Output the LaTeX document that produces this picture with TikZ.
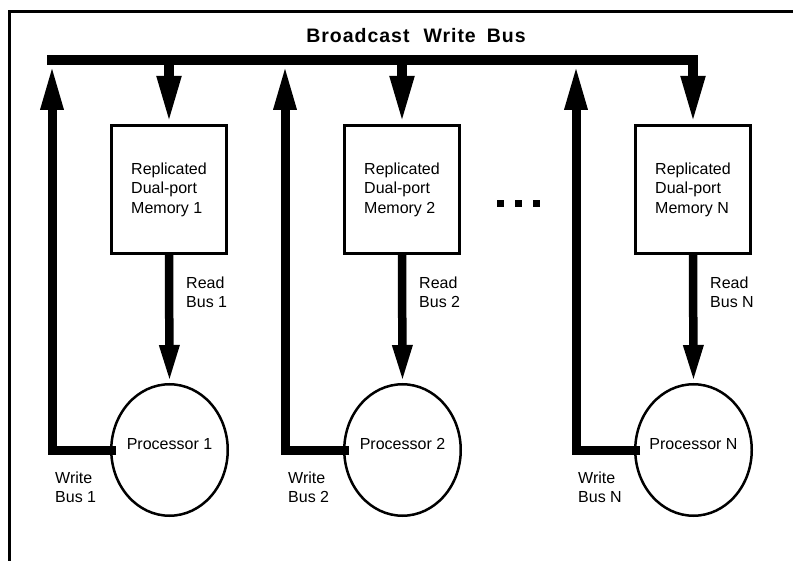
\documentclass[tikz,border=0pt]{standalone}
\usepackage{fontspec}
\setmainfont{Liberation Sans}
\newfontfamily\titlefont[LetterSpace=5]{Liberation Sans}
\usetikzlibrary{arrows.meta,shapes.geometric}

\begin{document}
\begin{tikzpicture}[x=1pt,y=-1pt,
  font=\fontsize{16}{19.5}\selectfont,
  line join=miter,
  frameline/.style={line width=3pt},
  mem/.style={draw,line width=3pt,minimum width=115pt,minimum height=128pt,
    inner sep=0pt,align=left},
  proc/.style={draw,ellipse,line width=2.5pt,minimum width=116.5pt,
    minimum height=131.5pt,inner sep=0pt},
  bbus/.style={line width=10.5pt,line cap=rect},
  tapdown/.style={line width=10pt,-{Triangle[width=22pt,length=48pt]}},
  rbus/.style={line width=8.5pt,-{Triangle[width=18pt,length=38pt]}},
  wbus/.style={line width=9pt,-{Triangle[width=21pt,length=45pt]}},
  lbl/.style={anchor=west,align=left,inner sep=0pt},
  dot/.style={fill=black,minimum size=6.7pt,inner sep=0pt}
]
\useasboundingbox (0,0) rectangle (793,561);

% open frame: top and left edges only
\draw[frameline] (9.5,561) -- (9.5,11.5) -- (793,11.5);

% title
\node[font={\titlefont\fontsize{19.5}{23}\selectfont\bfseries}] (title) at (416,35.5)
  {Broadcast\hspace{14pt}Write\hspace{11pt}Bus};

% broadcast write bus
\coordinate (busL) at (52,60);
\coordinate (busR) at (693,60);
\draw[bbus] (busL) -- (busR);

% memories
\node[mem] (m1) at (169,189.5) {Replicated\\Dual-port\\Memory 1};
\node[mem] (m2) at (402,189.5) {Replicated\\Dual-port\\Memory 2};
\node[mem] (mN) at (693,189.5) {Replicated\\Dual-port\\Memory N};

% processors
\node[proc] (p1) at (169.5,450) {};
\node[proc] (p2) at (402.5,450) {};
\node[proc] (pN) at (693.5,450) {};
\node (p1t) at (169.5,444) {Processor 1};
\node (p2t) at (402.5,444) {Processor 2};
\node (pNt) at (693.5,444) {Processor N};

% bus taps into the memories
\draw[tapdown] (m1.north |- busL) -- (m1.north);
\draw[tapdown] (m2.north |- busL) -- (m2.north);
\draw[tapdown] (mN.north |- busL) -- (mN.north);

% read buses
\draw[rbus] (m1.south) -- (p1.north);
\draw[rbus] (m2.south) -- (p2.north);
\draw[rbus] (mN.south) -- (pN.north);

% write buses up to the broadcast bus
\coordinate (w1) at (52,65);
\coordinate (w2) at (285,65);
\coordinate (wN) at (576,65);
\draw[wbus] ([xshift=6pt]p1.west) -| (w1);
\draw[wbus] ([xshift=6pt]p2.west) -| (w2);
\draw[wbus] ([xshift=6pt]pN.west) -| (wN);

% labels
\node[lbl] (r1) at (186,292.5) {Read\\Bus 1};
\node[lbl] (r2) at (419,292.5) {Read\\Bus 2};
\node[lbl] (rN) at (710,292.5) {Read\\Bus N};
\node[lbl] (wl1) at (55,487.5) {Write\\Bus 1};
\node[lbl] (wl2) at (288,487.5) {Write\\Bus 2};
\node[lbl] (wlN) at (578,487.5) {Write\\Bus N};

% ellipsis between columns
\node[dot] (d1) at (500.7,203.3) {};
\node[dot] (d2) at (518.5,203.3) {};
\node[dot] (d3) at (536.7,203.3) {};
\end{tikzpicture}
\end{document}
